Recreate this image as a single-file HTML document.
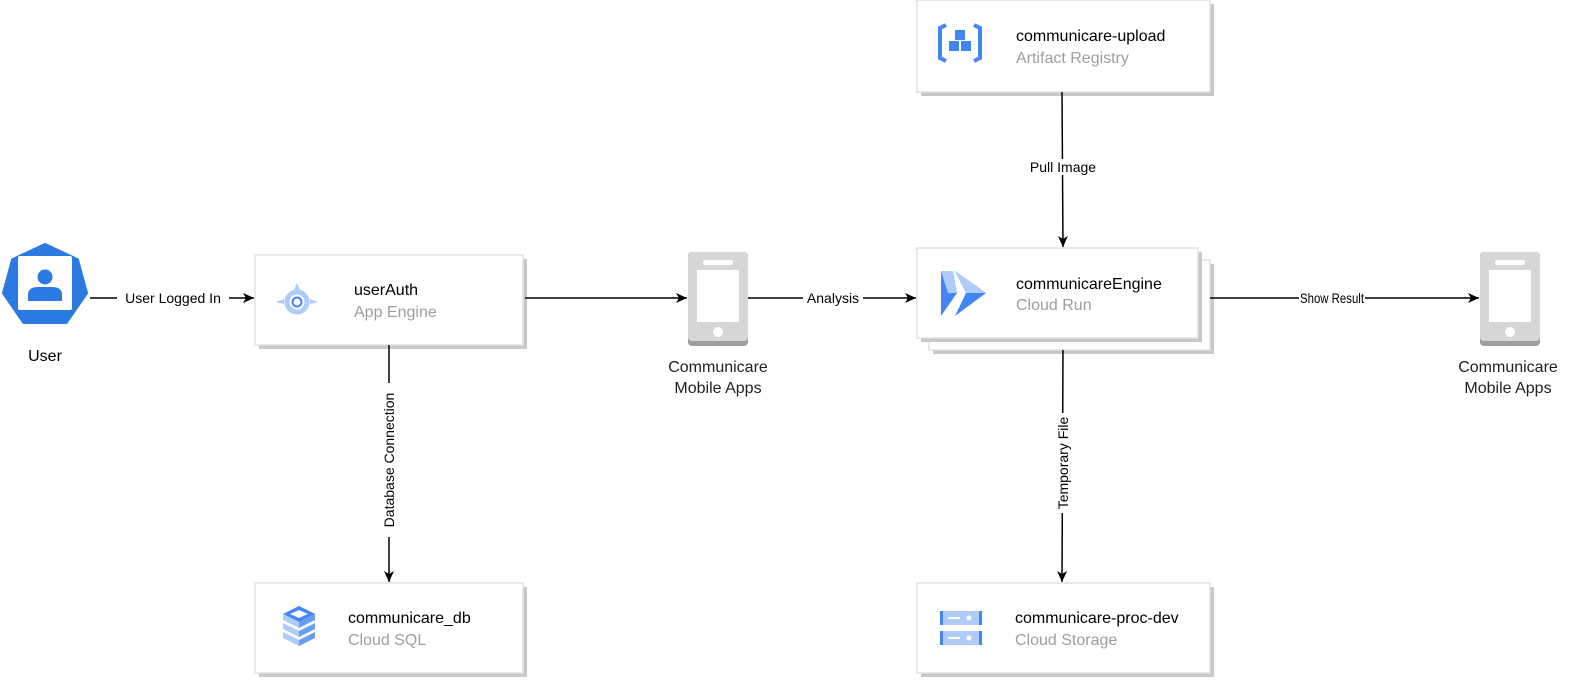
<!DOCTYPE html>
<html><head><meta charset="utf-8"><style>
body{margin:0;background:#fff;width:1574px;height:681px;overflow:hidden;font-family:"Liberation Sans",Arial,sans-serif}
</style></head><body>
<svg width="1574" height="681" viewBox="0 0 1574 681" xmlns="http://www.w3.org/2000/svg" font-family="Liberation Sans, Arial, sans-serif">
<defs>
<marker id="a" markerWidth="12" markerHeight="10" refX="11" refY="5" orient="auto" markerUnits="userSpaceOnUse">
<path d="M0,0 L11,5 L0,10 L3,5 z" fill="#000"/></marker>
</defs>
<g fill="#fff" stroke="#e0e0e0" stroke-width="1.5">
<rect x="259" y="259" width="268" height="90" fill="#c8c8c8" stroke="none"/>
<rect x="255" y="255" width="268" height="90"/>
<rect x="933" y="264" width="281" height="90" fill="#c8c8c8" stroke="none"/>
<rect x="929" y="260" width="281" height="90"/>
<rect x="921" y="252" width="281" height="90" fill="#c8c8c8" stroke="none"/>
<rect x="917" y="248" width="281" height="90"/>
<rect x="921" y="4" width="293" height="92" fill="#c8c8c8" stroke="none"/>
<rect x="917" y="0" width="293" height="92"/>
<rect x="259" y="587" width="268" height="90" fill="#c8c8c8" stroke="none"/>
<rect x="255" y="583" width="268" height="90"/>
<rect x="921" y="587" width="293" height="90" fill="#c8c8c8" stroke="none"/>
<rect x="917" y="583" width="293" height="90"/>
</g>
<g stroke="#000" stroke-width="1.5" fill="none">
<line x1="90" y1="298" x2="254" y2="298" marker-end="url(#a)"/>
<line x1="525" y1="298" x2="687" y2="298" marker-end="url(#a)"/>
<line x1="748" y1="298" x2="916" y2="298" marker-end="url(#a)"/>
<line x1="1210" y1="298" x2="1479" y2="298" marker-end="url(#a)"/>
<line x1="1062" y1="92" x2="1063" y2="247" marker-end="url(#a)"/>
<line x1="1063" y1="350" x2="1062" y2="582" marker-end="url(#a)"/>
<line x1="389" y1="345" x2="389" y2="582" marker-end="url(#a)"/>
</g>
<g font-size="14" fill="#000" text-anchor="middle">
<rect x="117" y="290" width="112" height="16" fill="#fff"/>
<text x="173" y="303">User Logged In</text>
<rect x="803" y="290" width="60" height="16" fill="#fff"/>
<text x="833" y="303">Analysis</text>
<rect x="1299" y="290" width="66" height="16" fill="#fff"/>
<text x="1332" y="303" textLength="64" lengthAdjust="spacingAndGlyphs">Show Result</text>
<rect x="1025" y="159" width="76" height="16" fill="#fff"/>
<text x="1063" y="172">Pull Image</text>
<g transform="translate(1063,463) rotate(-90)"><rect x="-50" y="-8" width="100" height="16" fill="#fff"/><text x="0" y="5">Temporary File</text></g>
<g transform="translate(389,460) rotate(-90)"><rect x="-77" y="-8" width="154" height="16" fill="#fff"/><text x="0" y="5">Database Connection</text></g>
</g>
<polygon points="45,245 77,260 86,293 66,322 24,322 4,293 13,260" fill="#2a7ae2" stroke="#2a7ae2" stroke-width="4" stroke-linejoin="round"/>
<rect x="18" y="256" width="54" height="54" rx="2" fill="#fff"/>
<circle cx="45" cy="277" r="7.5" fill="#2a7ae2"/>
<path d="M28,301 v-6 q0,-8 10,-8 h14 q10,0 10,8 v6z" fill="#2a7ae2"/>
<text x="45" y="361" font-size="16" text-anchor="middle">User</text>
<circle cx="297" cy="302" r="10" fill="none" stroke="#aecbfa" stroke-width="5"/>
<circle cx="297" cy="302" r="4.5" fill="none" stroke="#4285f4" stroke-width="2"/>
<path d="M294,290 l3,-7 l3,7z" fill="#aecbfa"/>
<path d="M276,302 l8,-3 v5z M318,302 l-8,-3 v5z" fill="#aecbfa"/>
<polygon points="941,271 953,271 957,293 941,316" fill="#4285f4"/>
<polygon points="941,271 953,271 957,293 948,293" fill="#aecbfa"/>
<polygon points="955,271 986,293 955,316 966,293" fill="#4285f4"/>
<polygon points="955,271 986,293 966,293" fill="#aecbfa"/>
<path d="M946,25 l-6,3 v30 l6,3" fill="none" stroke="#4285f4" stroke-width="4"/>
<path d="M974,25 l6,3 v30 l-6,3" fill="none" stroke="#4285f4" stroke-width="4"/>
<g fill="#4285f4"><rect x="955" y="30" width="10" height="10"/><rect x="949" y="41" width="10" height="10"/><rect x="961" y="41" width="10" height="10"/></g>
<g>
<path d="M283,614 l16,-8 l16,8 l-16,8z" fill="#4285f4"/>
<path d="M283,614 v6 l16,8 v-6z" fill="#aecbfa"/><path d="M315,614 v6 l-16,8 v-6z" fill="#669df6"/>
<path d="M283,623 v6 l16,8 v-6z" fill="#aecbfa"/><path d="M315,623 v6 l-16,8 v-6z" fill="#669df6"/>
<path d="M283,632 v6 l16,8 v-6z" fill="#aecbfa"/><path d="M315,632 v6 l-16,8 v-6z" fill="#669df6"/>
<path d="M290,614 l9,-4 l9,4 l-9,4z" fill="#fff"/>
</g>
<g>
<rect x="940" y="611" width="42" height="14" fill="#aecbfa"/><rect x="940" y="611" width="3" height="14" fill="#4285f4"/><rect x="979" y="611" width="3" height="14" fill="#4285f4"/>
<rect x="948" y="617" width="12" height="2" fill="#fff"/><circle cx="969" cy="618" r="2.5" fill="#fff"/>
<rect x="940" y="631" width="42" height="14" fill="#aecbfa"/><rect x="940" y="631" width="3" height="14" fill="#4285f4"/><rect x="979" y="631" width="3" height="14" fill="#4285f4"/>
<rect x="948" y="637" width="12" height="2" fill="#fff"/><circle cx="969" cy="638" r="2.5" fill="#fff"/>
</g>
<g>
<rect x="688" y="252" width="60" height="94" rx="4" fill="#9e9e9e"/>
<rect x="688" y="252" width="60" height="89" rx="4" fill="#d6d6d6"/>
<rect x="703" y="260" width="30" height="5" rx="2.5" fill="#fff"/>
<rect x="697" y="270" width="42" height="52" fill="#fff"/>
<circle cx="718" cy="332" r="5" fill="#fff"/>
<rect x="1480" y="252" width="60" height="94" rx="4" fill="#9e9e9e"/>
<rect x="1480" y="252" width="60" height="89" rx="4" fill="#d6d6d6"/>
<rect x="1495" y="260" width="30" height="5" rx="2.5" fill="#fff"/>
<rect x="1489" y="270" width="42" height="52" fill="#fff"/>
<circle cx="1510" cy="332" r="5" fill="#fff"/>
</g>
<g font-size="16" text-anchor="middle" fill="#222">
<text x="718" y="372">Communicare</text><text x="718" y="393">Mobile Apps</text>
<text x="1508" y="372">Communicare</text><text x="1508" y="393">Mobile Apps</text>
</g>
<g font-size="16">
<text x="354" y="295" fill="#000">userAuth</text><text x="354" y="317" fill="#9e9e9e">App Engine</text>
<text x="1016" y="289" fill="#000">communicareEngine</text><text x="1016" y="310" fill="#9e9e9e">Cloud Run</text>
<text x="1016" y="41" fill="#000">communicare-upload</text><text x="1016" y="63" fill="#9e9e9e">Artifact Registry</text>
<text x="348" y="623" fill="#000">communicare_db</text><text x="348" y="645" fill="#9e9e9e">Cloud SQL</text>
<text x="1015" y="623" fill="#000">communicare-proc-dev</text><text x="1015" y="645" fill="#9e9e9e">Cloud Storage</text>
</g>
</svg>
</body></html>
